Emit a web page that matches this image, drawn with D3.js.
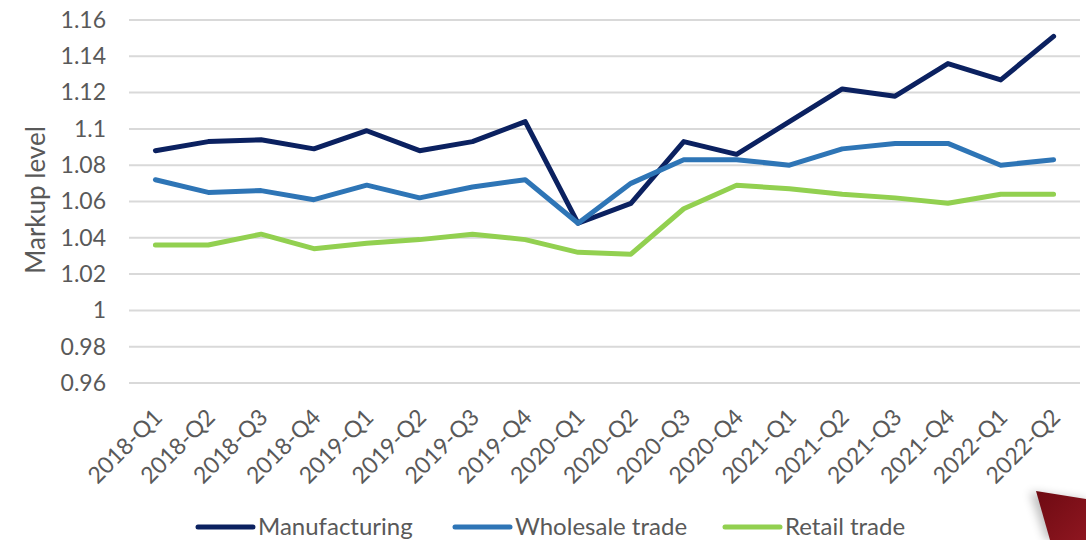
<!DOCTYPE html>
<html>
  <head>
    <meta charset="utf-8" />
    <title>Markup level</title>
    <style>
      body { margin: 0; background: #fff; }
      svg { display: block; font-family: Lato, "Open Sans", sans-serif; }
      .grid line { stroke: #d9d9d9; stroke-width: 2; }
      .axis text { fill: #595959; }
    </style>
  </head>
  <body>
    <svg id="chart" width="1086" height="540"></svg>
    <script src="https://cdnjs.cloudflare.com/ajax/libs/d3/7.8.5/d3.min.js"></script>
    <script>
const quarters = ['2018-Q1','2018-Q2','2018-Q3','2018-Q4','2019-Q1','2019-Q2','2019-Q3','2019-Q4',
                  '2020-Q1','2020-Q2','2020-Q3','2020-Q4','2021-Q1','2021-Q2','2021-Q3','2021-Q4',
                  '2022-Q1','2022-Q2'];
const manufacturing = [1.088, 1.093, 1.094, 1.089, 1.099, 1.088, 1.093, 1.104,
                       1.048, 1.059, 1.093, 1.086, 1.104, 1.122, 1.118, 1.136,
                       1.127, 1.151];
const wholesale = [1.072, 1.065, 1.066, 1.061, 1.069, 1.062, 1.068, 1.072,
                   1.048, 1.070, 1.083, 1.083, 1.080, 1.089, 1.092, 1.092,
                   1.080, 1.083];
const retail = [1.036, 1.036, 1.042, 1.034, 1.037, 1.039, 1.042, 1.039,
                1.032, 1.031, 1.056, 1.069, 1.067, 1.064, 1.062, 1.059,
                1.064, 1.064];
const yTicks = [0.96, 0.98, 1, 1.02, 1.04, 1.06, 1.08, 1.1, 1.12, 1.14, 1.16];
const seriesNames = ['Manufacturing', 'Wholesale trade', 'Retail trade'];
const seriesColors = ['#0b2160', '#2e75b6', '#92d050'];

const svg = d3.select('#chart');
const plotLeft = 129, plotRight = 1080, plotTop = 20, plotBottom = 383;

const x = d3.scalePoint().domain(quarters).range([plotLeft, plotRight]).padding(0.5);
const y = d3.scaleLinear().domain([0.96, 1.16]).range([plotBottom, plotTop]);

// red corner decoration
const defs = svg.append('defs');
const grad = defs.append('linearGradient').attr('id', 'redg')
  .attr('x1', '0').attr('y1', '0').attr('x2', '1').attr('y2', '1');
grad.append('stop').attr('offset', '0%').attr('stop-color', '#6e0a12');
grad.append('stop').attr('offset', '100%').attr('stop-color', '#8e1620');
const blur = defs.append('filter').attr('id', 'sh').attr('x', '-50%').attr('y', '-50%')
  .attr('width', '200%').attr('height', '200%');
blur.append('feGaussianBlur').attr('stdDeviation', 5);
svg.append('path').attr('d', 'M1030,492 L1086,500 L1086,540 L1046,540 Z')
  .attr('fill', '#000').attr('opacity', 0.25).attr('filter', 'url(#sh)');
svg.append('path').attr('d', 'M1036,491 L1086,499 L1086,540 L1050,540 Z')
  .attr('fill', 'url(#redg)');

// gridlines
svg.append('g').attr('class', 'grid')
  .selectAll('line').data(yTicks).join('line')
  .attr('x1', plotLeft).attr('x2', plotRight)
  .attr('y1', d => y(d)).attr('y2', d => y(d));

// y axis labels
const yAxis = svg.append('g').attr('class', 'axis')
  .attr('transform', `translate(${plotLeft},0)`)
  .call(d3.axisLeft(y).tickValues(yTicks).tickSize(0).tickPadding(23).tickFormat(d => String(+d.toFixed(2))));
yAxis.select('.domain').remove();
yAxis.selectAll('text').attr('font-size', 23).attr('font-family', 'Lato');

svg.append('text').attr('class', 'axis')
  .attr('transform', 'translate(45,200) rotate(-90)')
  .attr('text-anchor', 'middle')
  .attr('font-size', 26).attr('fill', '#595959')
  .text('Markup level');

// x axis labels
const xAxis = svg.append('g').attr('class', 'axis')
  .attr('transform', `translate(0,${plotBottom})`)
  .call(d3.axisBottom(x).tickSize(0).tickPadding(0));
xAxis.select('.domain').remove();
xAxis.selectAll('text')
  .attr('font-size', 23).attr('font-family', 'Lato')
  .attr('text-anchor', 'end')
  .attr('dy', '0.35em')
  .attr('transform', 'translate(2,30) rotate(-45)');

// lines
const allSeries = [manufacturing, wholesale, retail];
const line = d3.line().x((d, i) => x(quarters[i])).y(d => y(d));
svg.append('g').selectAll('path').data(allSeries).join('path')
  .attr('d', d => line(d))
  .attr('fill', 'none')
  .attr('stroke', (d, i) => seriesColors[i])
  .attr('stroke-width', 5)
  .attr('stroke-linejoin', 'round')
  .attr('stroke-linecap', 'round');

// legend
const legendX = [198, 455, 725];
const lg = svg.append('g').selectAll('g').data(seriesNames).join('g')
  .attr('transform', (d, i) => `translate(${legendX[i]},527)`);
lg.append('line').attr('x1', 0).attr('x2', 55)
  .attr('stroke', (d, i) => seriesColors[i])
  .attr('stroke-width', 5).attr('stroke-linecap', 'round');
lg.append('text').attr('x', 60).attr('dy', '0.35em')
  .attr('font-size', 24).attr('fill', '#595959')
  .text(d => d);
    </script>
  </body>
</html>
